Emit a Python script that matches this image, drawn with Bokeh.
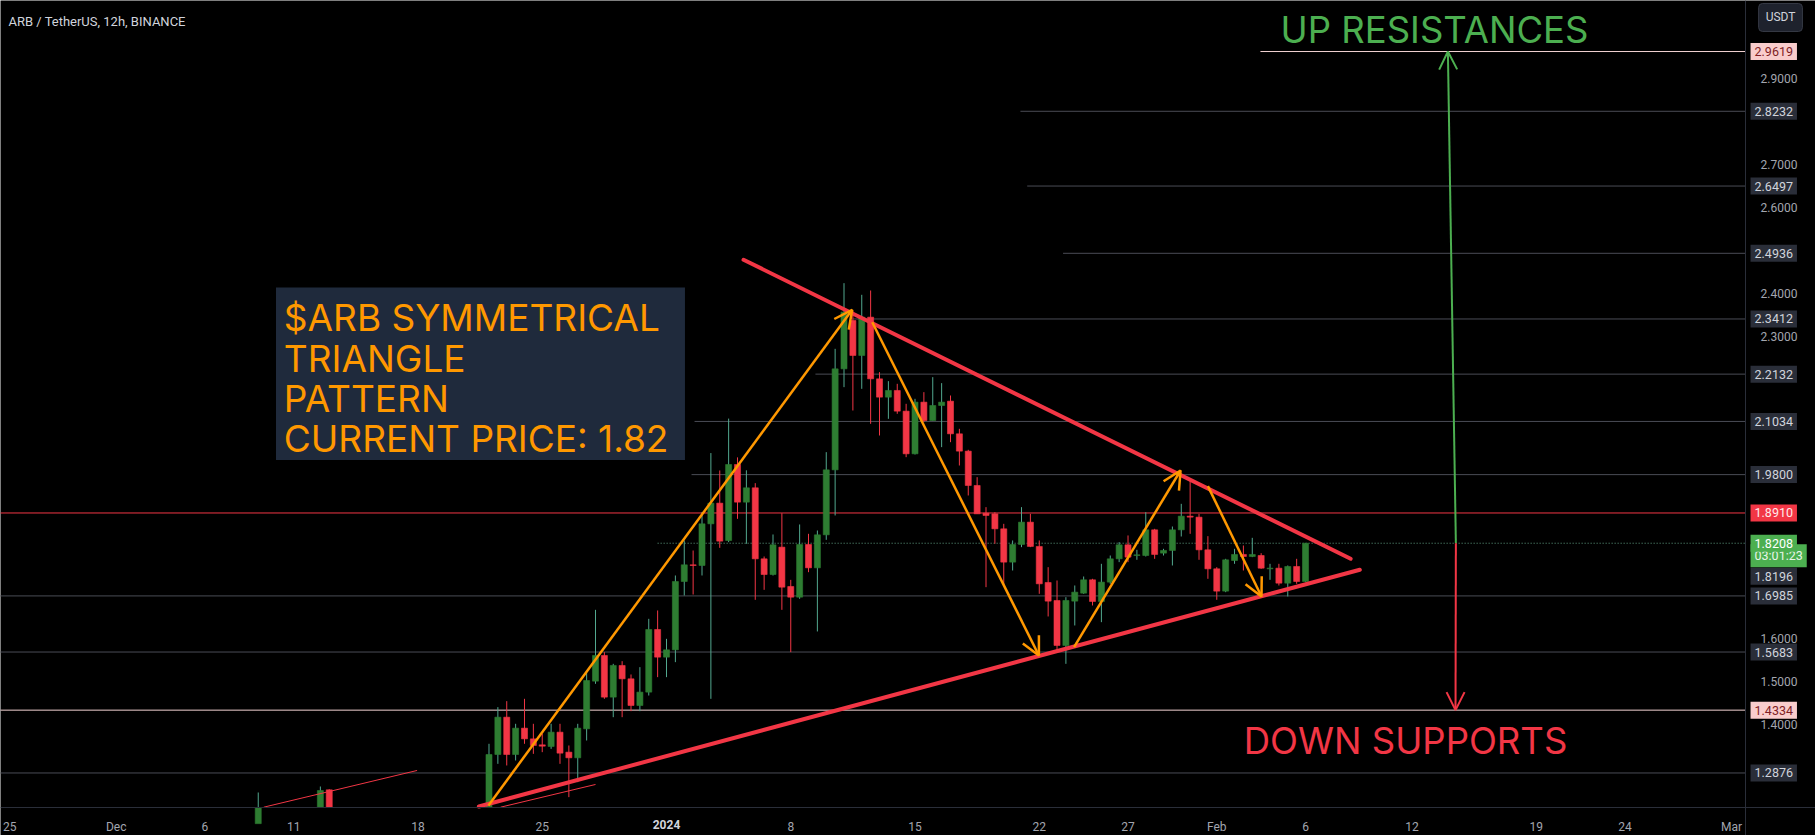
import numpy as np
import pandas as pd
from bokeh.plotting import figure
from bokeh.models import (Range1d, FixedTicker, Label, Arrow, OpenHead, ColumnDataSource,
                          BoxAnnotation, LinearAxis)
from bokeh.core.properties import value
from bokeh.embed import file_html
from bokeh.resources import INLINE

# ---------------- data ----------------
times = [
    "2023-12-09 00:00", "2023-12-12 12:00", "2023-12-13 00:00",
    "2023-12-22 00:00", "2023-12-22 12:00", "2023-12-23 00:00", "2023-12-23 12:00",
    "2023-12-24 00:00", "2023-12-24 12:00", "2023-12-25 00:00", "2023-12-25 12:00",
    "2023-12-26 00:00", "2023-12-26 12:00", "2023-12-27 00:00", "2023-12-27 12:00",
    "2023-12-28 00:00", "2023-12-28 12:00", "2023-12-29 00:00", "2023-12-29 12:00",
    "2023-12-30 00:00", "2023-12-30 12:00", "2023-12-31 00:00", "2023-12-31 12:00",
    "2024-01-01 00:00", "2024-01-01 12:00", "2024-01-02 00:00", "2024-01-02 12:00",
    "2024-01-03 00:00", "2024-01-03 12:00", "2024-01-04 00:00", "2024-01-04 12:00",
    "2024-01-05 00:00", "2024-01-05 12:00", "2024-01-06 00:00", "2024-01-06 12:00",
    "2024-01-07 00:00", "2024-01-07 12:00", "2024-01-08 00:00", "2024-01-08 12:00",
    "2024-01-09 00:00", "2024-01-09 12:00", "2024-01-10 00:00", "2024-01-10 12:00",
    "2024-01-11 00:00", "2024-01-11 12:00", "2024-01-12 00:00", "2024-01-12 12:00",
    "2024-01-13 00:00", "2024-01-13 12:00", "2024-01-14 00:00", "2024-01-14 12:00",
    "2024-01-15 00:00", "2024-01-15 12:00", "2024-01-16 00:00", "2024-01-16 12:00",
    "2024-01-17 00:00", "2024-01-17 12:00", "2024-01-18 00:00", "2024-01-18 12:00",
    "2024-01-19 00:00", "2024-01-19 12:00", "2024-01-20 00:00", "2024-01-20 12:00",
    "2024-01-21 00:00", "2024-01-21 12:00", "2024-01-22 00:00", "2024-01-22 12:00",
    "2024-01-23 00:00", "2024-01-23 12:00", "2024-01-24 00:00", "2024-01-24 12:00",
    "2024-01-25 00:00", "2024-01-25 12:00", "2024-01-26 00:00", "2024-01-26 12:00",
    "2024-01-27 00:00", "2024-01-27 12:00", "2024-01-28 00:00", "2024-01-28 12:00",
    "2024-01-29 00:00", "2024-01-29 12:00", "2024-01-30 00:00", "2024-01-30 12:00",
    "2024-01-31 00:00", "2024-01-31 12:00", "2024-02-01 00:00", "2024-02-01 12:00",
    "2024-02-02 00:00", "2024-02-02 12:00", "2024-02-03 00:00", "2024-02-03 12:00",
    "2024-02-04 00:00", "2024-02-04 12:00", "2024-02-05 00:00", "2024-02-05 12:00",
    "2024-02-06 00:00",
]
opens = [
    1.160, 1.170, 1.2485,
    1.200, 1.3305, 1.4171, 1.3305,
    1.3916, 1.3668, 1.3529, 1.3491,
    1.3823, 1.3359, 1.3228, 1.3901,
    1.5007, 1.5603, 1.4636, 1.5371,
    1.5061, 1.4442, 1.4752, 1.6206,
    1.5564, 1.5734, 1.7320, 1.7707,
    1.7691, 1.8658, 1.9138, 1.8271,
    2.0035, 1.9161, 1.9494, 1.7846,
    1.7482, 1.8117, 1.7204, 1.6956,
    1.8178, 1.7637, 1.8403, 1.9911,
    2.2255, 2.3377, 2.2565, 2.3454,
    2.2023, 2.1598, 2.1753, 2.1273,
    2.0283, 2.1482, 2.1056, 2.1404,
    2.1505, 2.0747, 2.0345, 1.9548,
    1.8906, 1.8890, 1.8542, 1.7769,
    1.8179, 1.8697, 1.8133, 1.7297,
    1.6879, 1.5835, 1.6864, 1.7049,
    1.7359, 1.6856, 1.7305, 1.7846,
    1.8171, 1.7923, 1.7923, 1.8519,
    1.7978, 1.8040, 1.8519, 1.8836,
    1.8813, 1.8055, 1.7614, 1.7096,
    1.7807, 1.7947, 1.7900, 1.7923,
    1.7614, 1.7629, 1.7281, 1.7668,
    1.7320,
]
highs = [
    1.2423, 1.2562, 1.2500,
    1.3553, 1.4404, 1.4543, 1.4017,
    1.4597, 1.4017, 1.3785, 1.4017,
    1.4017, 1.3514, 1.4017, 1.5216,
    1.6662, 1.5680, 1.5409, 1.5471,
    1.5162, 1.5332, 1.6453, 1.6647,
    1.5989, 1.7459, 1.8271, 1.8039,
    1.8929, 2.0300, 1.9896, 2.1100,
    2.0200, 1.9900, 1.9602, 1.7900,
    1.8411, 1.8906, 1.7358, 1.8643,
    1.8426, 1.8503, 2.0321, 2.2719,
    2.4243, 2.3609, 2.3973, 2.4073,
    2.2178, 2.1969, 2.1907, 2.1443,
    2.1559, 2.1714, 2.2062, 2.1923,
    2.1636, 2.0863, 2.0376, 1.9741,
    1.9045, 1.8929, 1.8658, 1.8272,
    1.9045, 1.8890, 1.8272, 1.7652,
    1.7343, 1.6956, 1.7227, 1.7436,
    1.7382, 1.7730, 1.7923, 1.8233,
    1.8388, 1.8055, 1.8929, 1.8542,
    1.8078, 1.8596, 1.9122, 1.9664,
    1.8890, 1.8372, 1.7652, 1.7846,
    1.8078, 1.8155, 1.8333, 1.7977,
    1.7730, 1.7730, 1.7691, 1.7846,
    1.8210,
]
lows = [
    1.150, 1.160, 1.170,
    1.190, 1.3088, 1.3050, 1.3166,
    1.3553, 1.3320, 1.3359, 1.3436,
    1.3088, 1.2315, 1.2663, 1.3630,
    1.4945, 1.4597, 1.4171, 1.4171,
    1.4311, 1.4311, 1.4674, 1.5100,
    1.5100, 1.5448, 1.6995, 1.7018,
    1.7459, 1.4597, 1.8101, 1.8233,
    1.8774, 1.8194, 1.6894, 1.7126,
    1.7459, 1.6662, 1.5680, 1.6918,
    1.7536, 1.6160, 1.8287, 1.8852,
    2.1830, 2.1288, 2.1791, 2.0979,
    2.0708, 2.1095, 2.1211, 2.0205,
    2.0267, 2.1018, 2.1056, 2.0438,
    2.0553, 2.0012, 1.9316, 1.8890,
    1.7188, 1.8195, 1.7227, 1.7575,
    1.8117, 1.8117, 1.7034, 1.6508,
    1.5680, 1.5409, 1.6299, 1.7034,
    1.6763, 1.6376, 1.7266, 1.7769,
    1.7769, 1.7823, 1.7900, 1.7846,
    1.7923, 1.7691, 1.8364, 1.8426,
    1.7823, 1.7382, 1.6895, 1.7072,
    1.7730, 1.7575, 1.7885, 1.7614,
    1.7359, 1.7227, 1.6972, 1.7266,
    1.7305,
]
closes = [
    1.170, 1.2469, 1.180,
    1.3305, 1.4171, 1.3305, 1.3916,
    1.3668, 1.3514, 1.3498, 1.3823,
    1.3336, 1.3228, 1.3916, 1.5022,
    1.5603, 1.4636, 1.5371, 1.5061,
    1.4442, 1.4752, 1.6206, 1.5564,
    1.5734, 1.7320, 1.7707, 1.7691,
    1.8658, 1.9138, 1.8256, 2.0035,
    1.9161, 1.9494, 1.7846, 1.7482,
    1.8171, 1.7188, 1.6956, 1.8178,
    1.7637, 1.8403, 1.9911, 2.2255,
    2.3570, 2.2565, 2.3454, 2.2023,
    2.1598, 2.1753, 2.1273, 2.0283,
    2.1482, 2.1056, 2.1404, 2.1482,
    2.0747, 2.0345, 1.9548, 1.8890,
    1.8852, 1.8542, 1.7769, 1.8179,
    1.8697, 1.8133, 1.7266, 1.6864,
    1.5835, 1.6879, 1.7072, 1.7359,
    1.6856, 1.7305, 1.7846, 1.8171,
    1.7885, 1.7939, 1.8519, 1.7947,
    1.8040, 1.8519, 1.8836, 1.8813,
    1.8055, 1.7614, 1.7096, 1.7823,
    1.7947, 1.7900, 1.7947, 1.7629,
    1.7629, 1.7281, 1.7668, 1.7320,
    1.8208,
]

# x-axis ticks (days from 2024-01-01) and labels
x_tick_days = [-37, -31, -26, -21, -14, -7, 0, 7, 14, 21, 26, 31, 36, 42, 49, 54, 60]
x_tick_labels = ["25", "Dec", "6", "11", "18", "25", "2024", "8", "15", "22", "27",
                 "Feb", "6", "12", "19", "24", "Mar"]
y_ticks = [1.4, 1.5, 1.6, 2.3, 2.4, 2.6, 2.7, 2.9]

# horizontal levels: price, start (days from 2024-01-01), kind
level_prices = [2.9619, 2.8232, 2.6497, 2.4936, 2.3412, 2.2132, 2.1034, 1.9800,
                1.8910, 1.6985, 1.5683, 1.4334, 1.2876]
level_starts = [33.46, 19.94, 20.32, 22.34, 10.48, 8.39, 1.58, 1.41,
                -38.0, -38.0, -38.0, -38.0, -38.0]
level_kinds = ["pink", "gray", "gray", "gray", "gray", "gray", "gray", "gray",
               "red", "gray", "gray", "pink", "gray"]
current_price = 1.8208
countdown = "03:01:23"
extra_level = 1.8196

# triangle trend lines (days, price)
upper_line_x = [4.34, 38.54]
upper_line_y = [2.4786, 1.7847]
lower_line_x = [-10.57, 39.06]
lower_line_y = [1.2098, 1.7591]
thin_lines = [([-22.69, -14.05], [1.2082, 1.2934]), ([-9.35, -4.0], [1.2082, 1.2609])]

# orange swing arrows (x0, y0, x1, y1)
swing_arrows = [
    (-10.03, 1.2122, 10.46, 2.3625),
    (11.59, 2.3337, 20.98, 1.5603),
    (22.96, 1.5795, 28.96, 1.9896),
    (30.50, 1.9532, 33.52, 1.6972),
]
up_target = 2.9619
down_target = 1.4334

title_text = "ARB / TetherUS, 12h, BINANCE"
note_lines = ["$ARB SYMMETRICAL", "TRIANGLE", "PATTERN", "CURRENT PRICE: 1.82"]

# ---------------- styles / layout ----------------
BG = "#000000"
GREEN_BODY = "#2e7d32"
GREEN_WICK = "#52a88f"
RED = "#f23645"
ORANGE = "#ff9800"
GRID_GRAY = "#4a4c55"
PINK_LINE = "#f3d3d3"
FONT = "Roboto"
BIG_FONT = "Inter"

W, H = 1815, 835
X0, X1 = -37.52, 64.73          # full canvas width in days
Y0, Y1 = 1.1425, 3.0803         # full canvas height in price
AXIS_X = 60.79                  # price-scale boundary (days)
AXIS_Y = 1.2075                 # time-scale boundary (price)

p = figure(width=W, height=H, output_backend="svg", toolbar_location=None,
           x_range=Range1d(X0, X1), y_range=Range1d(Y0, Y1),
           x_axis_location=None, y_axis_location=None, min_border=0)
p.background_fill_color = BG
p.border_fill_color = BG
p.outline_line_color = None
p.xgrid.visible = False
p.ygrid.visible = False

# axes with fixed locations
xa = LinearAxis(fixed_location=AXIS_Y)
xa.ticker = FixedTicker(ticks=x_tick_days)
xa.major_label_overrides = {t: ("" if l == "2024" else l) for t, l in zip(x_tick_days, x_tick_labels)}
xa.axis_line_color = "#2a2e39"
xa.major_tick_line_color = None
xa.minor_tick_line_color = None
xa.major_label_text_color = "#a3a6af"
xa.major_label_text_font = FONT
xa.major_label_text_font_size = "12px"
xa.major_label_standoff = 7
p.add_layout(xa, "below")

ya = LinearAxis(fixed_location=AXIS_X)
ya.ticker = FixedTicker(ticks=y_ticks)
ya.major_label_overrides = {t: f"{t:.4f}" for t in y_ticks}
ya.axis_line_color = "#2a2e39"
ya.major_tick_line_color = None
ya.minor_tick_line_color = None
ya.major_label_text_color = "#a3a6af"
ya.major_label_text_font = FONT
ya.major_label_text_font_size = "12px"
ya.major_label_standoff = 9
p.add_layout(ya, "right")

# bold year label on the time scale (same row as the axis labels)
year_tick = [t for t, l in zip(x_tick_days, x_tick_labels) if l == "2024"]
p.text(x=year_tick, y=[1.1690], text=["2024"], text_color="#d1d4dc",
       text_font=value(FONT), text_font_size="12px", text_font_style="bold",
       text_align="center", text_baseline="middle")

# levels
for lp, ls, lk in zip(level_prices, level_starts, level_kinds):
    col = {"gray": GRID_GRAY, "pink": PINK_LINE, "red": RED}[lk]
    p.segment(x0=[ls], y0=[lp], x1=[AXIS_X], y1=[lp], line_color=col, line_width=1)
p.segment(x0=[-0.5], y0=[current_price], x1=[AXIS_X], y1=[current_price],
          line_color="#5f9e83", line_width=1, line_dash="1 2")

# candles
df = pd.DataFrame({"t": pd.to_datetime(times), "o": opens, "h": highs, "l": lows, "c": closes})
df["x"] = (df["t"] - pd.Timestamp("2024-01-01")) / pd.Timedelta(days=1)
df["up"] = df["c"] >= df["o"]
df["top"] = df[["o", "c"]].max(axis=1)
df["bot"] = np.maximum(df[["o", "c"]].min(axis=1), AXIS_Y)
df["low"] = np.maximum(df["l"], AXIS_Y)
df["body"] = np.where(df["up"], GREEN_BODY, RED)
df["wick"] = np.where(df["up"], GREEN_WICK, RED)
src = ColumnDataSource(df.drop(columns=["t"]))
p.segment(x0="x", y0="h", x1="x", y1="low", line_color="wick", line_width=1, source=src)
p.vbar(x="x", width=0.34, top="top", bottom="bot", fill_color="body",
       line_color="body", line_width=0.6, source=src)

# thin red lines
for xs, ys in thin_lines:
    p.line(xs, ys, line_color=RED, line_width=1)

# triangle
p.line(upper_line_x, upper_line_y, line_color=RED, line_width=4, line_cap="round")
p.line(lower_line_x, lower_line_y, line_color=RED, line_width=4, line_cap="round")

# orange arrows
for x0, y0, x1, y1 in swing_arrows:
    p.add_layout(Arrow(x_start=x0, y_start=y0, x_end=x1, y_end=y1,
                       line_color=ORANGE, line_width=2.5,
                       end=OpenHead(size=18, line_color=ORANGE, line_width=2.5)))

# target arrows
p.add_layout(Arrow(x_start=44.47, y_start=current_price, x_end=44.02, y_end=up_target,
                   line_color="#4caf50", line_width=2,
                   end=OpenHead(size=18, line_color="#4caf50", line_width=2)))
p.add_layout(Arrow(x_start=44.47, y_start=current_price, x_end=44.45, y_end=down_target,
                   line_color=RED, line_width=2,
                   end=OpenHead(size=18, line_color=RED, line_width=2)))

# text annotations
p.add_layout(Label(x=34.59, y=3.0107, text="UP RESISTANCES", text_color="#4caf50",
                   text_font=BIG_FONT, text_font_size="36.5px", text_baseline="alphabetic"))
p.add_layout(Label(x=32.52, y=1.3614, text="DOWN SUPPORTS", text_color=RED,
                   text_font=BIG_FONT, text_font_size="36.5px", text_baseline="alphabetic"))

p.add_layout(BoxAnnotation(left=-22.0, right=1.04, top=2.4143, bottom=2.014,
                           fill_color="#1f2a3c", fill_alpha=1.0, line_color=None))
for txt, yb in zip(note_lines, [2.3453, 2.2502, 2.1574, 2.0634]):
    p.add_layout(Label(x=-21.56, y=yb, text=txt, text_color=ORANGE, text_font=BIG_FONT,
                       text_font_size="37px", text_baseline="alphabetic"))

# title (top-left)
p.add_layout(Label(x=-37.07, y=3.0323, text=title_text,
                   text_color="#d1d4dc", text_font=FONT, text_font_size="13px",
                   text_baseline="middle"))

# price-scale tags
TAG_X = 61.07
for lp, lk in zip(level_prices, level_kinds):
    bg, fg = {"gray": ("#2a2e39", "#d1d4dc"), "pink": ("#f9cccc", "#7f1d24"),
              "red": (RED, "#ffe9ea")}[lk]
    p.add_layout(Label(x=TAG_X, y=lp, text=f"{lp:.4f}",
                       text_color=fg, text_font=FONT, text_font_size="12.5px",
                       text_baseline="middle", background_fill_color=bg, padding=4))
p.add_layout(Label(x=TAG_X, y=1.7443, text=f"{extra_level:.4f}",
                   text_color="#d1d4dc", text_font=FONT, text_font_size="12.5px",
                   text_baseline="middle", background_fill_color="#2a2e39", padding=4))
p.add_layout(Label(x=TAG_X, y=1.7915, text=countdown,
                   text_color="#e8f5e9", text_font=FONT, text_font_size="12.5px",
                   text_baseline="middle", background_fill_color="#4caf50", padding=4))
p.add_layout(Label(x=TAG_X, y=current_price, text=f"{current_price:.4f}",
                   text_color="#ffffff", text_font=FONT, text_font_size="12.5px",
                   text_baseline="middle", background_fill_color="#4caf50", padding=4))

p.add_layout(Label(x=62.76, y=3.0409, text="USDT",
                   text_color="#d1d4dc", text_font=FONT, text_font_size="12px",
                   text_align="center", text_baseline="middle",
                   background_fill_color="#1e222d", border_line_color="#363a45",
                   padding=7, border_radius=4))

open("out.html", "w").write(file_html(p, INLINE))
